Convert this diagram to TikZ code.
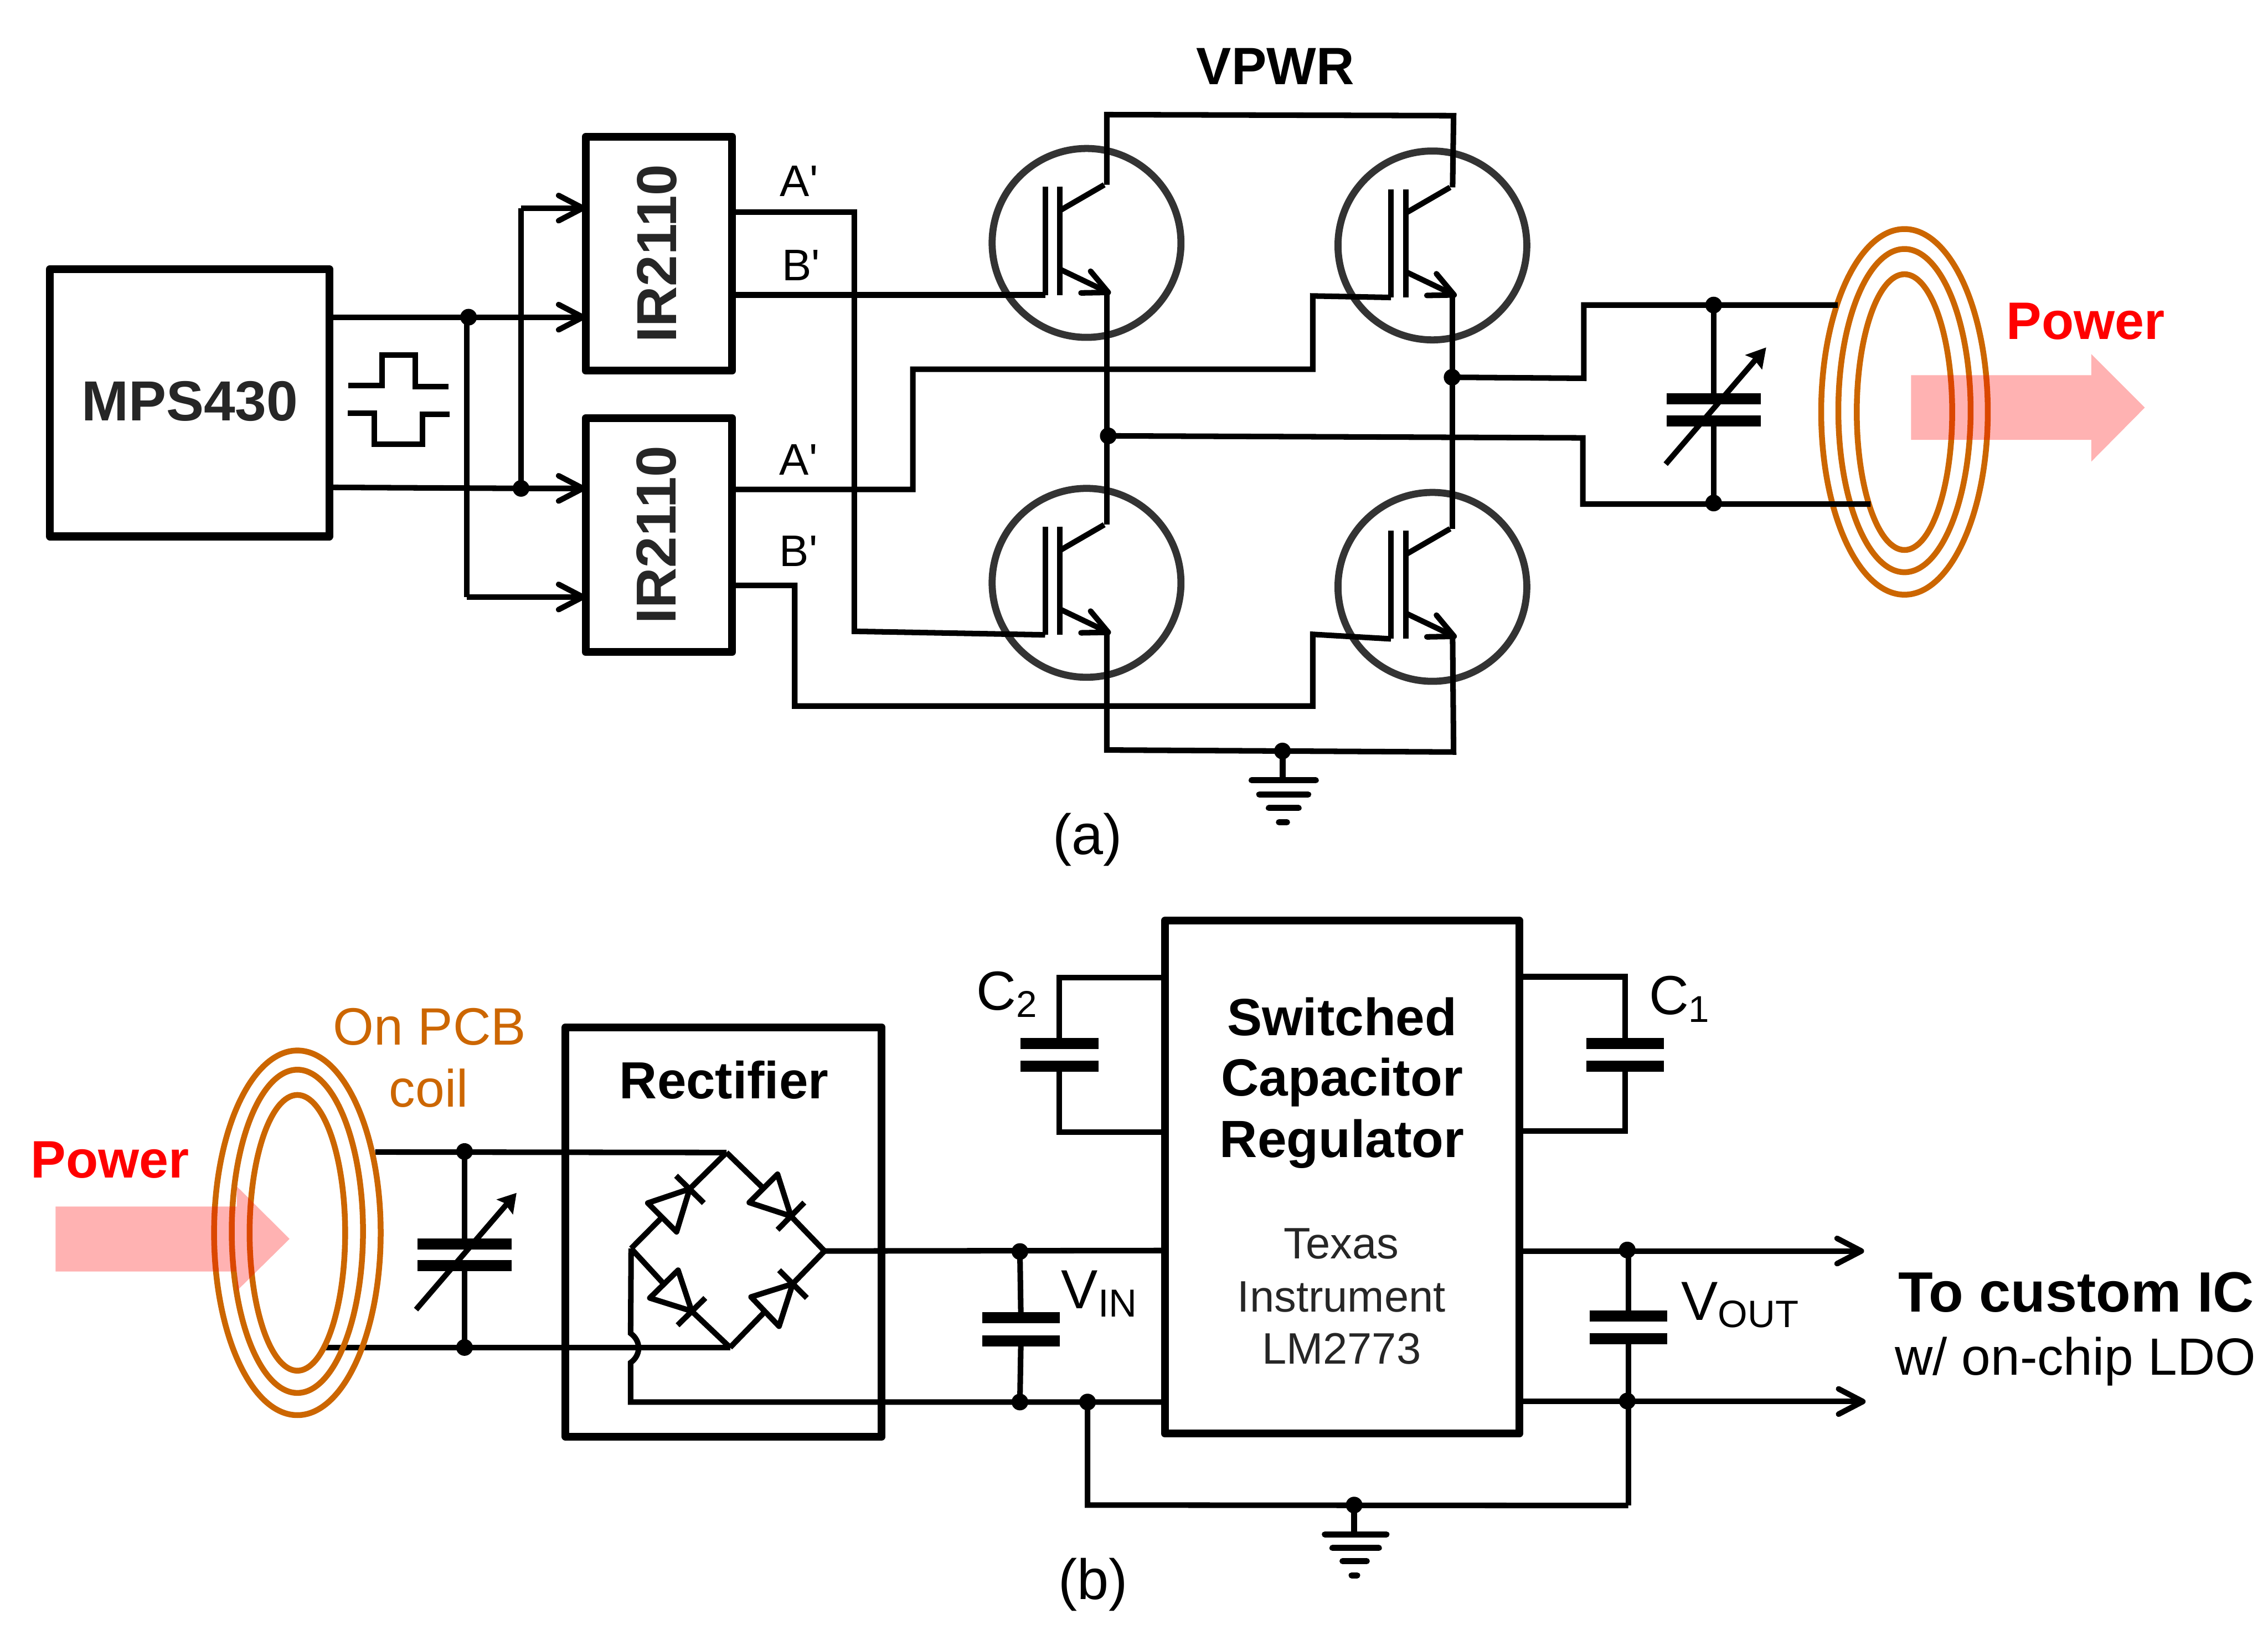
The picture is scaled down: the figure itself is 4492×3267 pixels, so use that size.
\documentclass[tikz,border=0pt]{standalone}
\usepackage{fontspec}
\setmainfont{Liberation Sans}
\newfontfamily\primefont{Liberation Sans}
\usetikzlibrary{arrows.meta}
\definecolor{coilc}{HTML}{CC6600}
\definecolor{dtext}{HTML}{262626}
\definecolor{ring}{HTML}{333333}
\newcommand\fsz[1]{\fontsize{#1}{#1}\selectfont}
\tikzset{
  wire/.style={line width=0.11cm,black},
  conn/.style={wire,-{Straight Barb[length=0.48cm,width=0.5cm,round]}},
  plate/.style={line width=0.22cm,black},
  box/.style={draw=black,line width=0.155cm,line join=round,inner sep=0,outer sep=0},
  dot/.style={circle,fill=black,inner sep=0,outer sep=0,minimum size=0.33cm},
  coilr/.style={draw=coilc,line width=0.115cm},
  powerarrow/.style={fill=red,fill opacity=0.3,draw=none},
  lab/.style={inner sep=0,outer sep=0,anchor=base west,align=left},
  cen/.style={inner sep=0,outer sep=0,anchor=base},
  igbt/.pic={
    \draw[ring,line width=0.14cm] (0,0) circle[radius=187];
    \draw[wire] (-82,-111) -- (-82,103);
    \draw[wire] (-53,-111) -- (-53,103);
    \draw[wire] (-53,-64) -- (35,-115);
    \draw[wire] (-53,52) -- (43,98);
    \draw[wire,line cap=round,line join=round] (8,56) -- (43,98) -- (-11,99);
    \coordinate (-g) at (-82,103);
    \coordinate (-c) at (40,-115);
    \coordinate (-e) at (40,98);
  },
  gnda/.pic={
    \draw[line width=0.12cm] (0,0) -- (0,58);
    \draw[line width=0.12cm,line cap=round] (-61,58) -- (66,58);
    \draw[line width=0.12cm,line cap=round] (-46,86) -- (51,86);
    \draw[line width=0.12cm,line cap=round] (-27,113) -- (32,113);
    \draw[line width=0.12cm,line cap=round] (-7,141) -- (9,141);
  },
  gndb/.pic={
    \draw[line width=0.12cm] (0,0) -- (0,58);
    \draw[line width=0.12cm,line cap=round] (-58,58) -- (64,58);
    \draw[line width=0.12cm,line cap=round] (-43,85) -- (49,85);
    \draw[line width=0.12cm,line cap=round] (-23,111) -- (25,111);
    \draw[line width=0.12cm,line cap=round] (-5,139) -- (6,139);
  },
  diode/.style={wire,line join=round},
}
\begin{document}
\begin{tikzpicture}[x=0.01cm,y=-0.01cm]
\useasboundingbox (0,0) rectangle (4492,3267);

% ---------- part (a) ----------
\node[box,minimum width=5.53cm,minimum height=5.29cm] (mps) at (375.5,797.5) {};
\node[box,minimum width=2.90cm,minimum height=4.63cm] (ira) at (1305,502.5) {};
\node[box,minimum width=2.90cm,minimum height=4.63cm] (irb) at (1305,1059.5) {};
\node[cen,text=dtext] (tmps) at (376,833) {\fsz{31.8}\bfseries MPS430};
\node[inner sep=0,outer sep=0,text=dtext,rotate=90,anchor=base] (tira) at (1340,502) {\fsz{31.7}\bfseries IR2110};
\node[inner sep=0,outer sep=0,text=dtext,rotate=90,anchor=base] (tirb) at (1339,1059) {\fsz{31.7}\bfseries IR2110};

% driver inputs
\coordinate (ma) at (652,628);
\coordinate (mb) at (652,965);
\node[dot] (j1) at (928,628) {};
\node[dot] (j2) at (1032,967) {};
\coordinate (j1d) at (925,1182);
\coordinate (j2u) at (1032,412);
\draw[conn] (ma) -- (j1.center) -- (ira.west |- j1);
\draw[conn] (mb) -- (j2.center) -- (irb.west |- j2);
\draw[wire] (925,628) -- (j1d);
\draw[conn] (j1d) -- (irb.west |- j1d);
\draw[wire] (j2.center) -- (j2u);
\draw[conn] (j2u) -- (ira.west |- j2u);

% square waves
\coordinate (wa1) at (690,763);
\coordinate (wa2) at (757,763);
\coordinate (wa3) at (757,703);
\coordinate (wa4) at (822,703);
\coordinate (wa5) at (822,766);
\coordinate (wa6) at (888,766);
\coordinate (wb1) at (689,818);
\coordinate (wb2) at (741,818);
\coordinate (wb3) at (741,880);
\coordinate (wb4) at (837,880);
\coordinate (wb5) at (837,820);
\coordinate (wb6) at (891,820);
\draw[wire] (wa1) -- (wa2) -- (wa3) -- (wa4) -- (wa5) -- (wa6);
\draw[wire] (wb1) -- (wb2) -- (wb3) -- (wb4) -- (wb5) -- (wb6);

% transistors
\pic (tl) at (2152,481) {igbt};
\pic (tr) at (2837,486) {igbt};
\pic (bl) at (2152,1154) {igbt};
\pic (br) at (2837,1162) {igbt};

\coordinate (ra) at (2192,227);
\coordinate (rb) at (2879,229);
\draw[wire] (tl-c) -- (ra) -- (rb) -- (tr-c);
\node[dot] (jl) at (2195,863) {};
\node[dot] (jr) at (2876,747) {};
\draw[wire] (tl-e) -- (bl-c);
\draw[wire] (tr-e) -- (br-c);

% gate wires
\coordinate (a1) at (1692,420);
\coordinate (a2) at (1692,1250);
\draw[wire] (ira.east |- a1) -- (a1) -- (a2) -- (bl-g);
\draw[wire] (ira.east |- tl-g) -- (tl-g);
\coordinate (c1) at (1808,969);
\coordinate (c2) at (1808,731);
\coordinate (c3) at (2600,731);
\coordinate (c4) at (2600,586);
\draw[wire] (irb.east |- c1) -- (c1) -- (c2) -- (c3) -- (c4) -- (tr-g);
\coordinate (d1) at (1574,1159);
\coordinate (d2) at (1574,1398);
\coordinate (d3) at (2600,1398);
\coordinate (d4) at (2600,1256);
\draw[wire] (irb.east |- d1) -- (d1) -- (d2) -- (d3) -- (d4) -- (br-g);

% ground of (a)
\coordinate (ge1) at (2192,1485);
\coordinate (ge2) at (2879,1489);
\draw[wire] (bl-e) -- (ge1) -- (ge2) -- (br-e);
\node[dot] (ga) at (2540,1487) {};
\pic at (ga.center) {gnda};

\node[lab] (ta1) at (1545,389) {\primefont\fsz{24.9}A'};
\node[lab] (tb1) at (1549,555) {\primefont\fsz{24.9}B'};
\node[lab] (ta2) at (1544,940) {\primefont\fsz{24.9}A'};
\node[lab] (tb2) at (1544,1121) {\primefont\fsz{24.9}B'};
\node[cen] (tvp) at (2526,167) {\fsz{29.6}\bfseries VPWR};
\node[cen] (tcapa) at (2154,1692) {\fsz{32}(a)};

% coil (a)
\draw[coilr] (3772,815.5) ellipse[x radius=165,y radius=362];
\draw[coilr] (3772,813) ellipse[x radius=131,y radius=320];
\draw[coilr] (3772,816) ellipse[x radius=94.5,y radius=273];
\fill[powerarrow] (3785,743) -- (4142,743) -- (4142,701) -- (4248,807) -- (4142,914) -- (4142,871) -- (3785,871) -- cycle;
\node[lab,text=red] (tpa) at (3974,672) {\fsz{29.7}\bfseries Power};

% tank (a)
\coordinate (ka1) at (3137,749);
\coordinate (ka2) at (3137,604);
\coordinate (ka3) at (3640,604);
\coordinate (kb1) at (3135,867);
\coordinate (kb2) at (3135,998);
\coordinate (kb3) at (3705,998);
\draw[wire] (jr.center) -- (ka1) -- (ka2) -- (ka3);
\draw[wire] (jl.center) -- (kb1) -- (kb2) -- (kb3);
\node[dot] (ka) at (3394,604) {};
\node[dot] (kb) at (3394,996) {};
\coordinate (pa1) at (3394,790);
\coordinate (pa2) at (3394,833);
\draw[wire] (ka.center) -- (pa1);
\draw[wire] (pa2) -- (kb.center);
\draw[plate] (3301,790) -- (3487,790);
\draw[plate] (3301,833) -- (3487,833);
\draw[wire] (3299,919) -- (3478,711);
\fill (3498,688) -- (3456,703) -- (3473,710) -- (3490,732) -- cycle;

% ---------- part (b) ----------
\node[box,minimum width=6.26cm,minimum height=8.10cm] (rect) at (1120,2034) [anchor=north west] {};
\node[box,minimum width=7.02cm,minimum height=10.15cm] (reg) at (2307,1823) [anchor=north west] {};

\node[cen] (treg1) at (2658,2050) {\fsz{29.5}\bfseries Switched};
\node[cen] (treg2) at (2658,2170) {\fsz{29.5}\bfseries Capacitor};
\node[cen] (treg3) at (2658,2291) {\fsz{29.5}\bfseries Regulator};
\node[cen,text=dtext] (treg4) at (2657,2492) {\fsz{24.8}Texas};
\node[cen,text=dtext] (treg5) at (2657,2597) {\fsz{24.8}Instrument};
\node[cen,text=dtext] (treg6) at (2657,2701) {\fsz{24.8}LM2773};
\node[cen] (trect) at (1434,2175) {\fsz{29.4}\bfseries Rectifier};

% bridge
\coordinate (bt) at (1439,2282);
\coordinate (br1) at (1633,2477);
\coordinate (bb) at (1446,2668);
\coordinate (bl1) at (1250,2472);
\coordinate (d1m) at (1311.5,2410);
\coordinate (d1a) at (1366,2354);
\coordinate (d2m) at (1512,2353);
\coordinate (d2a) at (1566.5,2408);
\coordinate (d3m) at (1315,2542.5);
\coordinate (d3a) at (1370,2596);
\coordinate (d4m) at (1515,2597);
\coordinate (d4a) at (1570,2542);
\draw[wire] (bl1) -- (d1m);
\draw[wire] (d1a) -- (bt);
\draw[wire] (bt) -- (d2m);
\draw[wire] (d2a) -- (br1);
\draw[wire] (bl1) -- (d3m);
\draw[wire] (d3a) -- (bb);
\draw[wire] (bb) -- (d4m);
\draw[wire] (d4a) -- (br1);
\draw[diode] (1283,2382) -- (1340,2439) -- (d1a) -- cycle;
\draw[wire] (1339,2328) -- (1394,2382);
\draw[diode] (1540,2325) -- (1484,2381) -- (d2a) -- cycle;
\draw[wire] (1593,2381) -- (1540,2435);
\draw[diode] (1343,2515) -- (1287,2570) -- (d3a) -- cycle;
\draw[wire] (1397,2570) -- (1342,2624);
\draw[diode] (1487.5,2568) -- (1543,2626) -- (d4a) -- cycle;
\draw[wire] (1543,2515) -- (1598,2570);

% tank (b)
\coordinate (wt) at (743,2281);
\coordinate (wb) at (645,2668);
\draw[wire] (wt) -- (bt);
\draw[wire] (wb) -- (bb);
\node[dot] (kc) at (920,2280) {};
\node[dot] (kd) at (920,2668) {};
\draw[wire] (kc.center) -- (920,2463);
\draw[wire] (920,2506) -- (kd.center);
\draw[plate] (827,2463) -- (1013,2463);
\draw[plate] (827,2506) -- (1013,2506);
\draw[wire] (824,2593) -- (1003,2385);
\fill (1023,2362) -- (983,2375) -- (999,2382) -- (1016,2405) -- cycle;

% coil (b)
\draw[coilr] (589,2441) ellipse[x radius=165,y radius=361];
\draw[coilr] (589,2438) ellipse[x radius=130,y radius=320];
\draw[coilr] (589,2441) ellipse[x radius=94.6,y radius=273];
\fill[powerarrow] (110,2389) -- (469,2389) -- (469,2349) -- (573.5,2453) -- (469,2556) -- (469,2517.5) -- (110,2517.5) -- cycle;
\node[lab,text=red] (tpb) at (61,2332) {\fsz{29.7}\bfseries Power};
\node[lab,text=coilc] (tpcb) at (660,2069) {\fsz{29.6}On PCB};
\node[cen,text=coilc] (tcoil) at (849,2192) {\fsz{29.6}coil};

% rectifier output, return with jump
\coordinate (jp1) at (1249,2640);
\coordinate (jp2) at (1249,2698);
\coordinate (rc) at (1249,2776);
\coordinate (regl) at (2307,2776);
\coordinate (regi) at (2307,2476);
\draw[wire] (bl1) -- (jp1) .. controls (1270,2655) and (1270,2683) .. (jp2) -- (rc) -- (regl);
\draw[wire] (br1) -- (regi);

% input cap
\node[dot] (vi1) at (2020,2478) {};
\node[dot] (vi2) at (2020,2776) {};
\node[dot] (vi3) at (2154,2776) {};
\draw[wire] (vi1.center) -- (2022,2609);
\draw[wire] (2022,2655) -- (vi2.center);
\draw[plate] (1945.5,2609) -- (2099,2609);
\draw[plate] (1945.5,2655) -- (2099,2655);
\node[lab] (tvin) at (2102,2591) {\fsz{31}V\raisebox{-0.16cm}{\fsz{22}IN}};

% C2
\coordinate (c2t) at (2098,1936);
\coordinate (c2b) at (2098,2242);
\draw[wire] (reg.west |- c2t) -- (c2t) -- (2098,2066);
\draw[wire] (2098,2111) -- (c2b) -- (reg.west |- c2b);
\draw[plate] (2021,2066) -- (2176,2066);
\draw[plate] (2021,2111) -- (2176,2111);
\node[lab] (tc2) at (1934,2000) {\fsz{31}C\raisebox{-0.14cm}{\fsz{21}2}};

% C1
\coordinate (c1t) at (3219,1934);
\coordinate (c1b) at (3219,2239);
\draw[wire] (reg.east |- c1t) -- (c1t) -- (3219,2066);
\draw[wire] (3219,2111) -- (c1b) -- (reg.east |- c1b);
\draw[plate] (3142,2066) -- (3296,2066);
\draw[plate] (3142,2111) -- (3296,2111);
\node[lab] (tc1) at (3266,2009) {\fsz{31}C\raisebox{-0.15cm}{\fsz{21}1}};

% output
\coordinate (o1) at (3692,2477);
\coordinate (o2) at (3695,2775);
\draw[conn] (reg.east |- o1) -- (o1);
\draw[conn] (reg.east |- o2) -- (o2);
\node[dot] (vo1) at (3223,2475) {};
\node[dot] (vo2) at (3223,2774) {};
\coordinate (go) at (3225,2981);
\draw[wire] (3225,2475) -- (3225,2606);
\draw[wire] (3225,2651) -- (go);
\draw[plate] (3148,2606) -- (3302,2606);
\draw[plate] (3148,2651) -- (3302,2651);
\node[lab] (tvout) at (3330,2614) {\fsz{31}V\raisebox{-0.14cm}{\fsz{21.5}OUT}};

% ground of (b)
\coordinate (gb1) at (2154,2980);
\draw[wire] (vi3.center) -- (gb1) -- (go);
\node[dot] (gb) at (2682,2980) {};
\pic at (gb.center) {gndb};

\node[lab] (tic) at (3760,2597) {\fsz{32}\bfseries To custom IC};
\node[lab] (tldo) at (3753,2723) {\fsz{29.5}w/ on-chip LDO};
\node[cen] (tcapb) at (2165,3167) {\fsz{32}(b)};
\end{tikzpicture}
\end{document}
